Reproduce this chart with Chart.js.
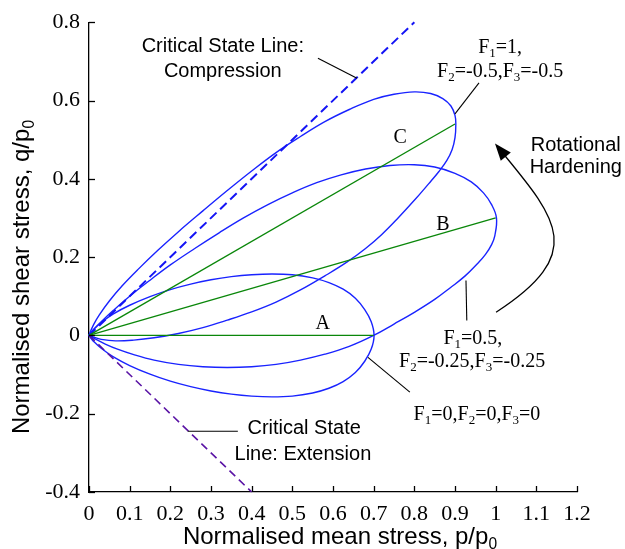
<!DOCTYPE html>
<html><head><meta charset="utf-8">
<script src="https://cdn.jsdelivr.net/npm/chart.js@4.4.1/dist/chart.umd.min.js"></script>
<style>html,body{margin:0;padding:0;background:#fff;}canvas{display:block;}</style>
</head><body>
<canvas id="c" width="625" height="549"></canvas>
<script>
// ---- tick labels ----
const xTickLabels = ['0','0.1','0.2','0.3','0.4','0.5','0.6','0.7','0.8','0.9','1','1.1','1.2'];
const yTickLabels = ['-0.4','-0.2','0','0.2','0.4','0.6','0.8'];

// ---- yield surface A: F1=0,F2=0,F3=0 (p/p0, q/p0) ----
const ellipseA_p = [0,0.004,0.012,0.03,0.06,0.10,0.15,0.20,0.25,0.30,0.35,0.40,0.45,0.50,0.55,0.59,0.625,0.655,0.678,0.694,0.701,
                    0.694,0.678,0.655,0.625,0.59,0.55,0.50,0.45,0.40,0.35,0.30,0.25,0.20,0.15,0.10,0.06,0.03,0.012,0.004,0];
const ellipseA_q = [0,0.006,0.016,0.033,0.055,0.077,0.099,0.117,0.131,0.142,0.150,0.155,0.157,0.155,0.147,0.135,0.118,0.095,0.066,0.035,0,
                    -0.035,-0.066,-0.095,-0.118,-0.135,-0.147,-0.155,-0.157,-0.155,-0.150,-0.142,-0.131,-0.117,-0.099,-0.077,-0.055,-0.033,-0.016,-0.006,0];

// ---- yield surface B: F1=0.5,F2=-0.25,F3=-0.25 ----
const ellipseB_p = [0,0.004,0.012,0.03,0.06,0.10,0.15,0.20,0.26,0.32,0.38,0.44,0.50,0.56,0.62,0.68,0.74,0.80,0.85,0.90,0.94,0.97,0.99,1.002,
                    0.998,0.99,0.975,0.955,0.925,0.89,0.85,0.80,0.75,0.70,0.64,0.58,0.52,0.46,0.40,0.34,0.28,0.22,0.16,0.11,0.07,0.04,0.015,0];
const ellipseB_q = [0,0.006,0.016,0.035,0.064,0.100,0.141,0.180,0.222,0.262,0.300,0.334,0.364,0.390,0.410,0.425,0.434,0.436,0.430,0.414,0.392,0.364,0.334,0.300,
                    0.255,0.232,0.207,0.183,0.152,0.123,0.092,0.059,0.029,0.000,-0.028,-0.048,-0.063,-0.074,-0.080,-0.082,-0.080,-0.074,-0.063,-0.049,-0.035,-0.022,-0.009,0];

// ---- yield surface C: F1=1,F2=-0.5,F3=-0.5 ----
const ellipseC_p = [0,0.004,0.012,0.025,0.05,0.08,0.12,0.17,0.22,0.28,0.34,0.40,0.46,0.52,0.58,0.64,0.70,0.75,0.80,0.84,0.87,0.89,0.900,0.902,
                    0.900,0.893,0.880,0.860,0.835,0.800,0.760,0.720,0.680,0.634,0.580,0.520,0.460,0.400,0.340,0.280,0.220,0.160,0.110,0.065,0.030,0.010,0];
const ellipseC_q = [0,0.011,0.029,0.052,0.088,0.125,0.168,0.218,0.265,0.318,0.370,0.420,0.467,0.508,0.546,0.577,0.603,0.616,0.622,0.618,0.605,0.586,0.562,0.539,
                    0.505,0.475,0.447,0.418,0.387,0.345,0.300,0.258,0.222,0.187,0.152,0.116,0.085,0.060,0.039,0.020,0.005,-0.006,-0.012,-0.014,-0.010,-0.004,0];

// ---- axes of the yield surfaces (green) ----
const axisA_p = [0,0.7];  const axisA_q = [0,0];
const axisB_p = [0,1.0];  const axisB_q = [0,0.3];
const axisC_p = [0,0.9];  const axisC_q = [0,0.54];

// ---- critical state lines ----
const cslComp_p = [0,0.8]; const cslComp_q = [0,0.8];
const cslExt_p  = [0,0.4]; const cslExt_q  = [0,-0.4];

// ---- annotations (data coordinates) ----
const sansLabels = [
  {t:'Critical State Line:', p:0.329, q:0.741},
  {t:'Compression',          p:0.329, q:0.678},
  {t:'Rotational',           p:1.197, q:0.489},
  {t:'Hardening',            p:1.197, q:0.433},
  {t:'Critical State',       p:0.529, q:-0.234},
  {t:'Line: Extension',      p:0.526, q:-0.301}
];
const serifLabels = [
  {t:'F_1=1,',               p:1.011, q:0.739},
  {t:'F_2=-0.5,F_3=-0.5',    p:1.011, q:0.678},
  {t:'C',                    p:0.765, q:0.510},
  {t:'B',                    p:0.870, q:0.288},
  {t:'A',                    p:0.575, q:0.033},
  {t:'F_1=0.5,',             p:0.944, q:-0.003},
  {t:'F_2=-0.25,F_3=-0.25',  p:0.942, q:-0.064},
  {t:'F_1=0,F_2=0,F_3=0',    p:0.954, q:-0.199}
];
const leaders = [
  [0.563,0.708, 0.659,0.657],
  [0.959,0.645, 0.900,0.566],
  [0.929,0.038, 0.927,0.140],
  [0.789,-0.145, 0.686,-0.056],
  [0.243,-0.245, 0.366,-0.245]
];
const arrowCurve = [1.003,0.484, 1.147,0.302, 1.231,0.214, 1.001,0.059];

const SERIF = '"Liberation Serif", "Times New Roman", serif';
const SANS = '"Liberation Sans", Arial, sans-serif';
Chart.defaults.font.family = SERIF;
Chart.defaults.font.size = 22;
Chart.defaults.color = '#000';

const BLUE = 'rgb(25,35,255)';
const GREEN = 'rgb(10,135,10)';
const toXY = (ps, qs) => ps.map((p,i)=>({x:p, y:qs[i]}));
function ds(ps, qs, color, width, dash, tension){
  return {data: toXY(ps,qs), showLine:true, borderColor:color, backgroundColor:color,
    borderWidth:width, borderDash:dash||[], pointRadius:0, pointHoverRadius:0,
    tension:tension||0, fill:false, clip:false};
}

function richParts(s){
  const parts=[];
  for(let i=0;i<s.length;i++){
    if(s[i]==='_'){ parts.push({t:s[i+1],sub:true}); i++; }
    else if(parts.length && !parts[parts.length-1].sub){ parts[parts.length-1].t+=s[i]; }
    else parts.push({t:s[i],sub:false});
  }
  return parts;
}
function drawRich(ctx, s, x, y, size, family){
  const parts = richParts(s);
  const sub = size*0.65;
  let w=0;
  parts.forEach(p=>{ ctx.font=(p.sub?sub:size)+'px '+family; p.w=ctx.measureText(p.t).width; w+=p.w; });
  let cx = x - w/2;
  const base = y + size*0.35;
  ctx.textAlign='left'; ctx.textBaseline='alphabetic';
  parts.forEach(p=>{
    ctx.font=(p.sub?sub:size)+'px '+family;
    ctx.fillText(p.t, cx, p.sub ? base+size*0.2 : base);
    cx += p.w;
  });
}

const decor = {
  id:'decor',
  afterDraw(chart){
    const ctx = chart.ctx, xs = chart.scales.x, ys = chart.scales.y;
    const X = v=>xs.getPixelForValue(v), Y = v=>ys.getPixelForValue(v);
    const ca = chart.chartArea;
    ctx.save();
    ctx.strokeStyle='#000'; ctx.lineWidth=1.3;
    xs.ticks.forEach(t=>{ const px=Math.round(X(t.value))+0.5; ctx.beginPath(); ctx.moveTo(px,ca.bottom); ctx.lineTo(px,ca.bottom-6); ctx.stroke(); });
    ys.ticks.forEach(t=>{ const py=Math.round(Y(t.value))+0.5; ctx.beginPath(); ctx.moveTo(ca.left,py); ctx.lineTo(ca.left+6,py); ctx.stroke(); });
    ctx.lineWidth=1.1;
    leaders.forEach(l=>{ ctx.beginPath(); ctx.moveTo(X(l[0]),Y(l[1])); ctx.lineTo(X(l[2]),Y(l[3])); ctx.stroke(); });
    const a = arrowCurve;
    ctx.lineWidth=1.3;
    ctx.beginPath();
    ctx.moveTo(X(a[0]),Y(a[1]));
    ctx.bezierCurveTo(X(a[2]),Y(a[3]),X(a[4]),Y(a[5]),X(a[6]),Y(a[7]));
    ctx.stroke();
    const hx=X(a[0]), hy=Y(a[1]);
    let dx=hx-X(a[2]), dy=hy-Y(a[3]); const L=Math.hypot(dx,dy); dx/=L; dy/=L;
    const len=14, hw=6.5;
    ctx.fillStyle='#000';
    ctx.beginPath();
    ctx.moveTo(hx+dx*3, hy+dy*3);
    ctx.lineTo(hx-dx*len - dy*hw, hy-dy*len + dx*hw);
    ctx.lineTo(hx-dx*len + dy*hw, hy-dy*len - dx*hw);
    ctx.closePath(); ctx.fill();
    ctx.fillStyle='#000';
    sansLabels.forEach(l=>drawRich(ctx,l.t,X(l.p),Y(l.q),20,SANS));
    serifLabels.forEach(l=>drawRich(ctx,l.t,X(l.p),Y(l.q),20,SERIF));
    drawRich(ctx,'Normalised mean stress, p/p_0',340,536,24,SANS);
    ctx.translate(21,277); ctx.rotate(-Math.PI/2);
    drawRich(ctx,'Normalised shear stress, q/p_0',0,0,24,SANS);
    ctx.restore();
  }
};

const tickFont = {family:SERIF, size:22};
new Chart(document.getElementById('c'), {
  type:'scatter',
  data:{datasets:[
    ds(axisA_p, axisA_q, GREEN, 1.4),
    ds(axisB_p, axisB_q, GREEN, 1.4),
    ds(axisC_p, axisC_q, GREEN, 1.4),
    ds(cslComp_p, cslComp_q, 'rgb(20,20,245)', 2, [9,5]),
    ds(cslExt_p, cslExt_q, 'rgb(90,20,165)', 1.6, [8,5]),
    ds(ellipseA_p, ellipseA_q, BLUE, 1.4, null, 0.4),
    ds(ellipseB_p, ellipseB_q, BLUE, 1.4, null, 0.4),
    ds(ellipseC_p, ellipseC_q, BLUE, 1.4, null, 0.4)
  ]},
  options:{
    responsive:false, animation:false, events:[],
    layout:{padding:{left:0,right:48,top:21,bottom:0}},
    plugins:{legend:{display:false}, tooltip:{enabled:false}, title:{display:false}},
    scales:{
      x:{type:'linear', min:0, max:1.2,
        afterFit:s=>{s.height=57;},
        afterBuildTicks:s=>{s.ticks=xTickLabels.map((t,i)=>({value:i*0.1}));},
        ticks:{font:tickFont, color:'#000', padding:9, maxRotation:0, autoSkip:false,
          callback:(v,i)=>xTickLabels[i]},
        grid:{display:false, drawTicks:false},
        border:{display:true, color:'#000', width:1.3}},
      y:{type:'linear', min:-0.4, max:0.8,
        afterFit:s=>{s.width=89;},
        afterBuildTicks:s=>{s.ticks=yTickLabels.map((t,i)=>({value:-0.4+i*0.2}));},
        ticks:{font:tickFont, color:'#000', padding:9, autoSkip:false,
          callback:(v,i)=>yTickLabels[i]},
        grid:{display:false, drawTicks:false},
        border:{display:true, color:'#000', width:1.3}}
    }
  },
  plugins:[decor]
});
</script>
</body></html>
